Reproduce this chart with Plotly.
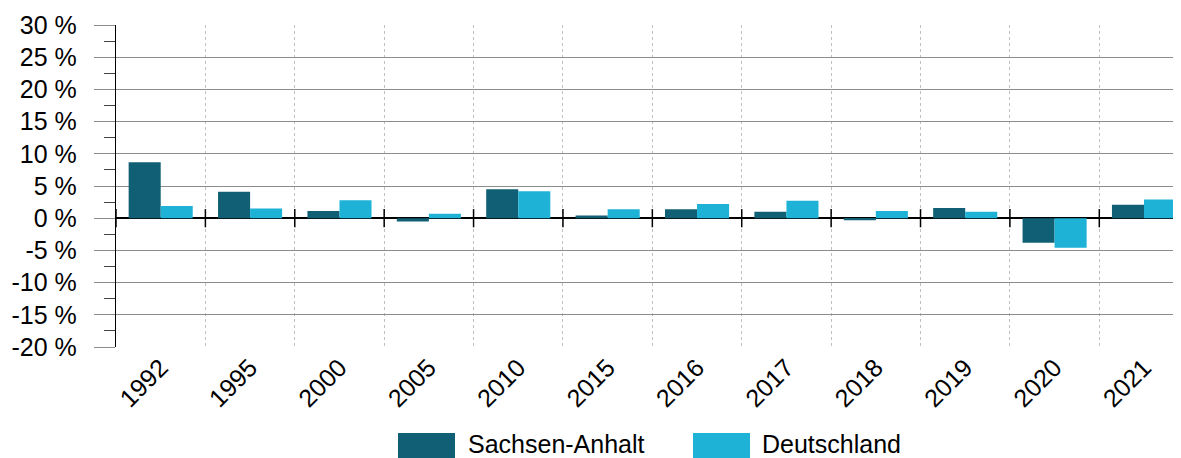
import plotly.graph_objects as go

years = ["1992", "1995", "2000", "2005", "2010", "2015", "2016", "2017", "2018", "2019", "2020", "2021"]
sachsen_anhalt = [8.7, 4.1, 1.1, -0.5, 4.5, 0.4, 1.4, 1.0, -0.3, 1.6, -3.8, 2.1]
deutschland = [1.9, 1.5, 2.8, 0.7, 4.2, 1.4, 2.2, 2.7, 1.1, 1.0, -4.6, 2.9]
y_ticks = [30, 25, 20, 15, 10, 5, 0, -5, -10, -15, -20]
y_tick_labels = ["30 %", "25 %", "20 %", "15 %", "10 %", "5 %", "0 %", "-5 %", "-10 %", "-15 %", "-20 %"]
series_names = ["Sachsen-Anhalt", "Deutschland"]
colors = ["#115f74", "#1db2d6"]

FONT = "Liberation Sans, Arial, sans-serif"
FS = 25
pos = list(range(len(years)))
bounds = [i - 0.5 for i in range(len(years))]

fig = go.Figure()
fig.add_trace(go.Bar(x=pos, y=sachsen_anhalt, name=series_names[0], marker_color=colors[0],
                     marker_line_width=0, showlegend=False))
fig.add_trace(go.Bar(x=pos, y=deutschland, name=series_names[1], marker_color=colors[1],
                     marker_line_width=0, showlegend=False))
# crossing ticks on the zero line at category boundaries
fig.add_trace(go.Scatter(x=bounds, y=[0] * len(bounds), mode="markers",
                         marker=dict(symbol="line-ns", size=13, line=dict(width=1.5, color="black")),
                         cliponaxis=False, showlegend=False, hoverinfo="skip"))

OFF = 8  # page body margin
W, H = 1181 - OFF, 458 - OFF
L, T, B = 116 - OFF, 25 - OFF, 111
pw, ph = W - L, H - T - B

def px(x):
    return (x - OFF - L) / pw

def py(y):
    return (H - B - (y - OFF)) / ph

legend_items = [(398, 455, 466), (693, 750, 760)]
for (x0, x1, tx), name, col in zip(legend_items, series_names, colors):
    fig.add_shape(type="rect", xref="paper", yref="paper", x0=px(x0), x1=px(x1),
                  y0=py(433), y1=py(458), fillcolor=col, line_width=0)
    fig.add_annotation(xref="paper", yref="paper", x=px(tx), y=py(443.5), text=name,
                       showarrow=False, xanchor="left", yanchor="middle",
                       font=dict(size=FS, color="black", family=FONT))

fig.update_layout(
    width=W, height=H,
    margin=dict(l=L, r=0, t=T, b=B),
    paper_bgcolor="white", plot_bgcolor="white",
    barmode="group", bargap=0.283, bargroupgap=0,
    font=dict(family=FONT, size=FS, color="black"),
    xaxis=dict(range=[-0.5, 11.414], tickmode="array", tickvals=pos, ticktext=years,
               tickangle=-45, ticks="", showgrid=False, zeroline=False, showline=False,
               tickfont=dict(size=FS), fixedrange=True,
               minor=dict(tick0=0.5, dtick=1, showgrid=True, gridcolor="#c0c0c0",
                          griddash="dot", gridwidth=1, ticks="")),
    yaxis=dict(range=[-20, 30], tickmode="array", tickvals=y_ticks, ticktext=y_tick_labels,
               showgrid=True, gridcolor="#8c8c8c", gridwidth=1.3,
               zeroline=True, zerolinecolor="black", zerolinewidth=1.5,
               showline=True, linecolor="black", linewidth=1.3,
               ticks="outside", ticklen=21, tickcolor="#8c8c8c", tickwidth=1.3,
               ticklabelstandoff=12, tickfont=dict(size=FS),
               minor=dict(dtick=2.5, tick0=0, ticks="outside", ticklen=11,
                          tickcolor="#444444", tickwidth=1.2, showgrid=False)),
)

fig.write_html("out.html")
